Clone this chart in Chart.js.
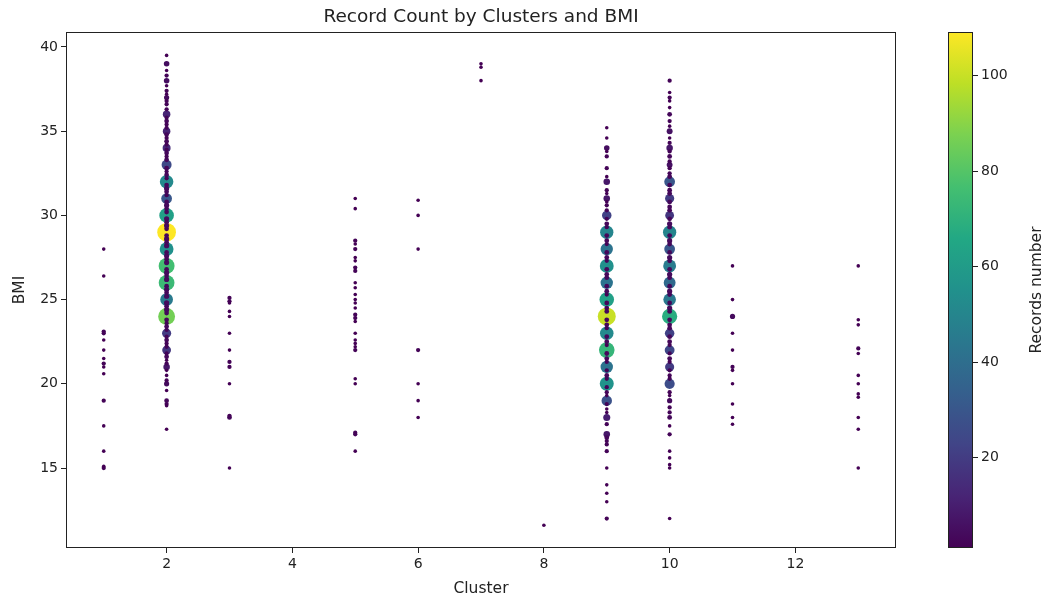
<!DOCTYPE html>
<html lang="en">
<head>
    <meta charset="UTF-8">
    <title>Record Count by Clusters and BMI</title>
    <script src="https://cdn.jsdelivr.net/npm/chart.js"></script>
    <style>
        body { margin: 0; background: #fff; }
    </style>
</head>
<body>
    <canvas id="bmiChart" width="1048" height="601"></canvas>

    <script>
        // Cluster ids and, per cluster, the BMI values and their record counts
        const clusters = [1, 2, 3, 5, 6, 7, 8, 9, 10, 11, 13];

        const bmiValues = [
            // cluster 1
            [28, 26.4, 23.1, 23, 22.6, 22, 21.5, 21.2, 21, 20.6, 19, 17.5, 16, 15.1, 15],
            // cluster 2
            [39.5, 39, 38.6, 38.3, 38, 37.7, 37.4, 37.2, 37, 36.8,
             36.6, 36.3, 36, 35.8, 35.6, 35.4, 35.2, 35, 34.8, 34.6,
             34.4, 34.2, 34, 33.9, 33.7, 33.5, 33.3, 33, 32.8, 32.6,
             32.4, 32.2, 32, 31.8, 31.6, 31.4, 31.2, 31, 30.8, 30.6,
             30.4, 30.2, 30, 29.8, 29.6, 29.4, 29.2, 29, 28.8, 28.6,
             28.4, 28.2, 28, 27.8, 27.6, 27.4, 27.2, 27, 26.8, 26.6,
             26.4, 26.2, 26, 25.8, 25.6, 25.4, 25.2, 25, 24.8, 24.6,
             24.4, 24.2, 24, 23.8, 23.6, 23.4, 23.2, 23, 22.8, 22.6,
             22.4, 22.2, 22, 21.8, 21.6, 21.4, 21.2, 21, 20.8, 20.5,
             20.2, 20, 19.6, 19, 18.8, 18.7, 17.3],
            // cluster 3
            [25.1, 24.9, 24.8, 24.3, 24, 23, 22, 21.3, 21, 20, 18.1, 18, 15],
            // cluster 5
            [31, 30.4, 28.5, 28.3, 28, 27.5, 27.3, 26.9, 26.7, 26,
             25.7, 25.3, 25, 24.8, 24.5, 24.1, 23.9, 23.7, 23, 22.6,
             22.4, 22.2, 22, 20.3, 20, 17.1, 17, 16],
            // cluster 6
            [30.9, 30, 28, 22, 20, 19, 18],
            // cluster 7
            [39, 38.8, 38],
            // cluster 8
            [11.6],
            // cluster 9
            [35.2, 34.6, 34, 33.8, 33.5, 32.8, 32.3, 32, 31.5, 31.3,
             31, 30.8, 30.6, 30.3, 30, 29.8, 29.5, 29.3, 29, 28.8,
             28.5, 28.3, 28, 27.8, 27.5, 27.3, 27, 26.8, 26.5, 26.3,
             26, 25.8, 25.5, 25.3, 25, 24.8, 24.5, 24.3, 24, 23.8,
             23.5, 23.3, 23, 22.8, 22.5, 22.3, 22, 21.8, 21.5, 21.3,
             21, 20.8, 20.5, 20.3, 20, 19.8, 19.5, 19.3, 19, 18.8,
             18.5, 18.3, 18, 17.6, 17, 16.8, 16.6, 16.4, 16, 15,
             14, 13.5, 13, 12],
            // cluster 10
            [38, 37.3, 37, 36.8, 36.4, 36, 35.6, 35.3, 35, 34.6,
             34.3, 34, 33.8, 33.5, 33.2, 33, 32.8, 32.5, 32.3, 32,
             31.8, 31.5, 31.3, 31, 30.8, 30.5, 30.3, 30, 29.8, 29.5,
             29.3, 29, 28.8, 28.5, 28.3, 28, 27.8, 27.5, 27.3, 27,
             26.8, 26.5, 26.3, 26, 25.8, 25.5, 25.3, 25, 24.8, 24.5,
             24.3, 24, 23.8, 23.5, 23.3, 23, 22.8, 22.5, 22.3, 22,
             21.8, 21.5, 21.3, 21, 20.8, 20.5, 20.3, 20, 19.5, 19.3,
             19, 18.6, 18.3, 18, 17.5, 17, 16, 15.6, 15.2, 15,
             12],
            // cluster 11
            [27, 25, 24, 23, 22, 21, 20.8, 20, 18.8, 18, 17.6],
            // cluster 13
            [27, 23.8, 23.5, 22.1, 21.8, 20.5, 20, 19.4, 19.2, 18, 17.3, 15]
        ];

        const recordCounts = [
            // cluster 1
            [1, 1, 2, 2, 1, 1, 1, 2, 1, 1, 2, 1, 1, 1, 2],
            // cluster 2
            [1, 5, 1, 2, 5, 1, 2, 1, 4, 2,
             2, 2, 12, 2, 3, 2, 2, 12, 3, 2,
             3, 2, 14, 2, 3, 2, 3, 25, 3, 2,
             3, 2, 52, 3, 4, 3, 2, 30, 3, 4,
             3, 3, 62, 4, 3, 4, 3, 109, 3, 4,
             3, 4, 55, 3, 4, 3, 4, 76, 3, 4,
             3, 4, 74, 3, 4, 3, 4, 45, 4, 3,
             4, 3, 86, 3, 2, 3, 2, 20, 2, 3,
             2, 2, 18, 2, 3, 1, 2, 8, 1, 1,
             2, 4, 1, 3, 2, 1, 1],
            // cluster 3
            [2, 2, 1, 1, 1, 1, 1, 2, 2, 1, 2, 3, 1],
            // cluster 5
            [1, 1, 2, 1, 2, 1, 1, 2, 2, 1,
             1, 1, 1, 1, 1, 2, 2, 1, 1, 1,
             1, 1, 2, 1, 1, 2, 2, 1],
            // cluster 6
            [1, 1, 1, 2, 1, 1, 1],
            // cluster 7
            [1, 1, 1],
            // cluster 8
            [1],
            // cluster 9
            [1, 1, 5, 1, 2, 2, 1, 8, 2, 1,
             8, 1, 2, 2, 22, 2, 3, 2, 50, 3,
             3, 2, 42, 3, 3, 2, 55, 3, 3, 3,
             42, 3, 3, 2, 62, 3, 3, 3, 100, 3,
             3, 2, 52, 3, 3, 2, 72, 3, 3, 2,
             42, 2, 3, 2, 56, 2, 2, 1, 28, 2,
             1, 1, 10, 2, 8, 3, 2, 2, 2, 1,
             1, 1, 1, 2],
            // cluster 10
            [2, 1, 2, 1, 1, 3, 2, 1, 6, 1,
             2, 8, 2, 3, 2, 6, 2, 2, 3, 30,
             3, 3, 3, 20, 3, 3, 3, 18, 3, 4,
             3, 50, 3, 4, 3, 30, 3, 4, 3, 46,
             3, 4, 3, 38, 3, 4, 3, 44, 3, 4,
             3, 68, 3, 3, 3, 22, 3, 3, 2, 24,
             2, 3, 2, 20, 2, 2, 2, 26, 2, 1,
             4, 2, 2, 3, 1, 2, 1, 1, 1, 1,
             1],
            // cluster 11
            [1, 1, 4, 1, 1, 2, 1, 1, 1, 1, 1],
            // cluster 13
            [1, 1, 1, 2, 1, 1, 1, 1, 1, 1, 1, 1]
        ];

        // Tick labels
        const xTicks = [2, 4, 6, 8, 10, 12];
        const yTicks = [15, 20, 25, 30, 35, 40];
        const colorbarTicks = [20, 40, 60, 80, 100];

        // Viridis colour map
        const viridisStops = ['#440154', '#482475', '#414487', '#355f8d', '#2a788e',
            '#21918c', '#22a884', '#44bf70', '#7ad151', '#bddf26', '#fde725'];

        function hexToRgb(h) {
            return [parseInt(h.slice(1, 3), 16), parseInt(h.slice(3, 5), 16), parseInt(h.slice(5, 7), 16)];
        }

        function viridis(t) {
            t = Math.max(0, Math.min(1, t));
            const pos = t * (viridisStops.length - 1);
            const i = Math.min(Math.floor(pos), viridisStops.length - 2);
            const f = pos - i;
            const a = hexToRgb(viridisStops[i]);
            const b = hexToRgb(viridisStops[i + 1]);
            const c = a.map((v, k) => Math.round(v + (b[k] - v) * f));
            return 'rgb(' + c.join(',') + ')';
        }

        // Build the points, big counts first so the small ones are drawn on top
        const points = [];
        clusters.forEach((c, i) => {
            bmiValues[i].forEach((b, j) => {
                points.push({ x: c, y: b, n: recordCounts[i][j] });
            });
        });
        points.sort((a, b) => b.n - a.n);

        const allCounts = points.map(p => p.n);
        const minCount = Math.min(...allCounts);
        const maxCount = Math.max(...allCounts);
        const norm = n => (n - minCount) / (maxCount - minCount);
        const radius = n => 0.8 * Math.sqrt(n) + 1.0;

        const FONT = 'DejaVu Sans';
        const TEXT = '#222';
        const LABEL_SIZE = 15.5;

        // Frame, colour bar and title
        const extrasPlugin = {
            id: 'extras',
            afterDraw(chart) {
                const ctx = chart.ctx;
                const a = chart.chartArea;
                ctx.save();

                // frame round the axes
                ctx.strokeStyle = TEXT;
                ctx.lineWidth = 1;
                ctx.strokeRect(a.left + 0.5, a.top + 0.5, a.right - a.left - 1, a.bottom - a.top - 1);

                // title
                ctx.fillStyle = TEXT;
                ctx.font = '18.5px "' + FONT + '"';
                ctx.textAlign = 'center';
                ctx.textBaseline = 'middle';
                ctx.fillText('Record Count by Clusters and BMI', (a.left + a.right) / 2, 17);

                // colour bar
                const cbLeft = 948, cbWidth = 25;
                const cbTop = a.top, cbBottom = a.bottom;
                const grad = ctx.createLinearGradient(0, cbBottom, 0, cbTop);
                viridisStops.forEach((c, i) => grad.addColorStop(i / (viridisStops.length - 1), c));
                ctx.fillStyle = grad;
                ctx.fillRect(cbLeft, cbTop, cbWidth, cbBottom - cbTop);
                ctx.strokeStyle = TEXT;
                ctx.strokeRect(cbLeft + 0.5, cbTop + 0.5, cbWidth - 1, cbBottom - cbTop - 1);

                ctx.font = '14px "' + FONT + '"';
                ctx.textAlign = 'left';
                ctx.fillStyle = TEXT;
                colorbarTicks.forEach(v => {
                    const y = Math.round(cbBottom - norm(v) * (cbBottom - cbTop)) + 0.5;
                    ctx.beginPath();
                    ctx.moveTo(cbLeft + cbWidth, y);
                    ctx.lineTo(cbLeft + cbWidth + 5, y);
                    ctx.stroke();
                    ctx.fillText(String(v), cbLeft + cbWidth + 8, y);
                });

                ctx.font = LABEL_SIZE + 'px "' + FONT + '"';
                ctx.translate(1037, (cbTop + cbBottom) / 2);
                ctx.rotate(-Math.PI / 2);
                ctx.textAlign = 'center';
                ctx.fillText('Records number', 0, 0);

                ctx.restore();
            }
        };

        const axisStyle = {
            grid: { display: true, drawOnChartArea: false, drawTicks: true, tickLength: 5, color: TEXT },
            border: { display: false },
            ticks: { color: TEXT, font: { family: FONT, size: 14 }, padding: 3 }
        };

        const ctx = document.getElementById('bmiChart').getContext('2d');
        new Chart(ctx, {
            type: 'scatter',
            data: {
                datasets: [{
                    label: 'Records',
                    data: points,
                    pointRadius: c => radius(c.raw.n),
                    pointHoverRadius: c => radius(c.raw.n),
                    pointBackgroundColor: c => viridis(norm(c.raw.n)),
                    pointBorderWidth: 0
                }]
            },
            options: {
                responsive: false,
                animation: false,
                layout: { padding: { left: 0, right: 152, top: 32, bottom: 0 } },
                plugins: {
                    legend: { display: false },
                    tooltip: { enabled: false }
                },
                scales: {
                    x: {
                        type: 'linear',
                        min: 0.4,
                        max: 13.6,
                        afterBuildTicks: s => { s.ticks = xTicks.map(v => ({ value: v })); },
                        afterFit: s => { s.height = 53; },
                        ...axisStyle,
                        title: {
                            display: true, text: 'Cluster', color: TEXT,
                            font: { family: FONT, size: LABEL_SIZE }, padding: { top: 0, bottom: 3 }
                        }
                    },
                    y: {
                        type: 'linear',
                        min: 10.25,
                        max: 40.89,
                        afterBuildTicks: s => { s.ticks = yTicks.map(v => ({ value: v })); },
                        afterFit: s => { s.width = 66; },
                        ...axisStyle,
                        title: {
                            display: true, text: 'BMI', color: TEXT,
                            font: { family: FONT, size: LABEL_SIZE }, padding: { top: 11, bottom: 0 }
                        }
                    }
                }
            },
            plugins: [extrasPlugin]
        });
    </script>
</body>
</html>
